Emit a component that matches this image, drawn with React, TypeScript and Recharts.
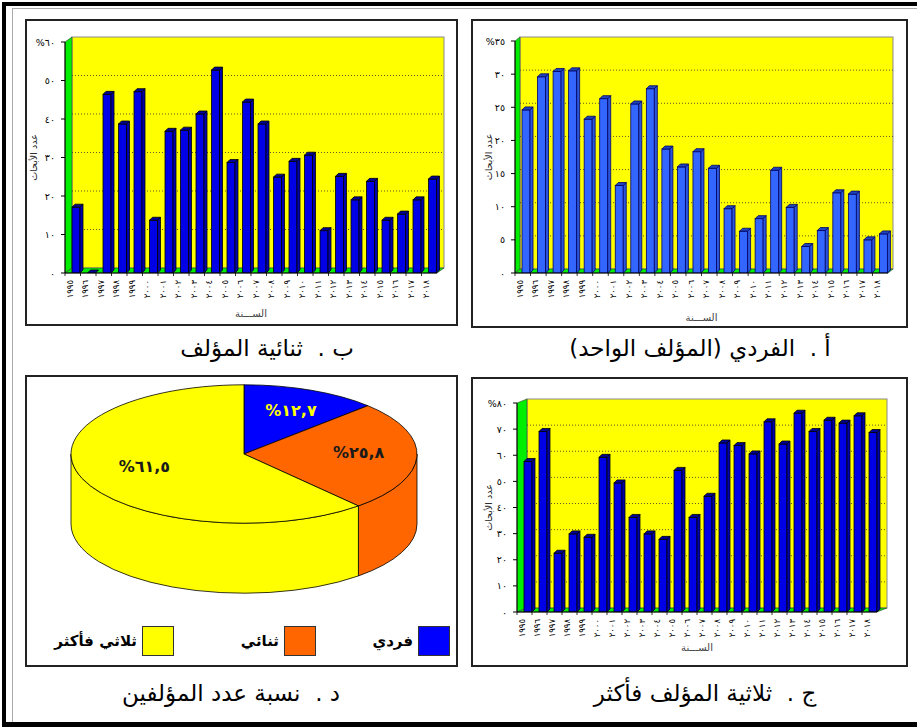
import React from 'react';
import { BarChart, Bar, XAxis, YAxis, ReferenceArea, ReferenceLine, PieChart, Pie, Cell, Legend } from 'recharts';

// ---------- DATA ----------
const years = [1995, 1996, 1997, 1998, 1999, 2000, 2001, 2002, 2003, 2004, 2005, 2006, 2007, 2008, 2009, 2010, 2011, 2012, 2013, 2014, 2015, 2016, 2017, 2018];
const singleAuthorPct = [24.6, 29.6, 30.4, 30.5, 23.2, 26.3, 13.2, 25.5, 27.8, 18.7, 16.0, 18.3, 15.8, 9.7, 6.3, 8.2, 15.5, 9.9, 4.0, 6.4, 12.1, 11.9, 5.0, 5.9];
const twoAuthorsPct = [17.1, 0, 46.4, 38.7, 47.1, 13.7, 36.8, 37.1, 41.3, 52.7, 28.7, 44.4, 38.7, 24.9, 29.0, 30.6, 11.0, 25.1, 19.0, 23.8, 13.7, 15.3, 19.0, 24.4];
const threePlusPct = [57.6, 69.1, 22.5, 29.9, 28.6, 59.2, 49.4, 36.2, 29.9, 27.8, 54.2, 36.2, 44.3, 64.7, 63.7, 60.5, 72.8, 64.3, 76.1, 69.1, 73.4, 72.3, 75.1, 68.7];
const singleTicks = [0, 5, 10, 15, 20, 25, 30, 35];
const twoTicks = [0, 10, 20, 30, 40, 50, 60];
const threeTicks = [0, 10, 20, 30, 40, 50, 60, 70, 80];
const shareNames = ['فردي', 'ثنائي', 'ثلاثي فأكثر'];
const shareValues = [12.7, 25.8, 61.5];
const shareColors = ['#0000FF', '#FF6600', '#FFFF00'];
const shareLabelColors = ['#FFFF00', '#1a1a1a', '#1a1a1a'];
const yTitle = 'عدد الأبحاث';
const xTitle = 'الســـنة';
const captions = {
  a: 'أ .  الفردي (المؤلف الواحد)',
  b: 'ب .  ثنائية المؤلف',
  c: 'ج .  ثلاثية المؤلف فأكثر',
  d: 'د .  نسبة عدد المؤلفين',
};

// ---------- HELPERS ----------
const AR_DIGITS = '٠١٢٣٤٥٦٧٨٩';
const toAr = (v: number | string) => String(v).replace(/\d/g, (d) => AR_DIGITS[+d]).replace('.', ',');
const FONT = "'DejaVu Sans', 'Noto Sans', sans-serif";
const RAD = Math.PI / 180;

type Cfg = {
  left: number; top: number; width: number; height: number;
  yWidth: number; xHeight: number; marginTop: number; marginRight: number;
  dx: number; dy: number; barSize: number; barShift: number; labelShift: number;
  front: string; side: string; topc: string; stroke: string;
  yTitleX: number; xTitleDy: number;
};

function BarPanel({ cfg, values, ticks }: { cfg: Cfg; values: number[]; ticks: number[] }) {
  const data = years.map((y, i) => ({ year: y, v: values[i] }));
  const max = ticks[ticks.length - 1];
  const plotW = cfg.width - cfg.yWidth - cfg.marginRight;
  const half = plotW / years.length / 2;
  const { dx, dy } = cfg;

  const walls = (p: any) => {
    const { x, y, width: w, height: h } = p;
    return (
      <g>
        <rect x={x + dx} y={y - dy} width={w} height={h} fill="#FFFF00" stroke="#8a8a8a" strokeWidth={1} />
        <polygon points={`${x},${y} ${x + dx},${y - dy} ${x + dx},${y + h - dy} ${x},${y + h}`} fill="#00EE00" stroke="#3a3a3a" strokeWidth={0.6} />
        <polygon points={`${x},${y + h} ${x + dx},${y + h - dy} ${x + w + dx},${y + h - dy} ${x + w},${y + h}`} fill="#00EE00" stroke="#3a3a3a" strokeWidth={0.6} />
      </g>
    );
  };

  const grid = (p: any) => (
    <line x1={p.x1 + dx} y1={p.y1 - dy} x2={p.x2 + dx} y2={p.y2 - dy} stroke="#333" strokeWidth={0.8} strokeDasharray="1 2" />
  );

  const barShape = (p: any) => {
    const { x, y, width, height } = p;
    if (x == null || y == null) return <g />;
    const X = x + cfg.barShift;
    const h = Math.max(height || 0, 0);
    const d = 3, d2 = 3;
    return (
      <g>
        {h > 0 && <rect x={X} y={y} width={width} height={h} fill={cfg.front} stroke={cfg.stroke} strokeWidth={0.8} />}
        {h > 0 && (
          <polygon points={`${X + width},${y} ${X + width + d},${y - d2} ${X + width + d},${y + h - d2} ${X + width},${y + h}`} fill={cfg.side} stroke={cfg.stroke} strokeWidth={0.8} />
        )}
        <polygon points={`${X},${y} ${X + d},${y - d2} ${X + width + d},${y - d2} ${X + width},${y}`} fill={cfg.topc} stroke={cfg.stroke} strokeWidth={0.8} />
      </g>
    );
  };

  const xTick = (p: any) => {
    const { x, y, payload } = p;
    return (
      <g>
        <line x1={x - half} y1={y - 5} x2={x - half} y2={y - 2} stroke="#000" strokeWidth={0.8} />
        <text transform={`translate(${x + cfg.labelShift},${y + 2}) rotate(-90)`} textAnchor="end" dominantBaseline="central" fontSize={8.5} fontFamily={FONT} fill="#000">
          {toAr(payload.value)}
        </text>
      </g>
    );
  };

  const yTick = (p: any) => {
    const { x, y, payload } = p;
    const label = payload.value === max ? '%' + toAr(payload.value) : toAr(payload.value);
    return (
      <text x={x} y={y} textAnchor="end" dominantBaseline="central" fontSize={9.5} fontFamily={FONT} fill="#000">
        {label}
      </text>
    );
  };

  const yTitleEl = (p: any) => {
    const vb = p.viewBox || {};
    const cy = vb.y + vb.height / 2;
    return (
      <text transform={`translate(${cfg.yTitleX},${cy}) rotate(-90)`} textAnchor="middle" dominantBaseline="central" fontSize={9.5} fontFamily={FONT} fill="#222">
        {yTitle}
      </text>
    );
  };

  const xTitleEl = (p: any) => {
    const vb = p.viewBox || {};
    return (
      <text x={vb.x + vb.width / 2} y={vb.y + cfg.xTitleDy} textAnchor="middle" dominantBaseline="central" fontSize={10} fontFamily={FONT} fill="#444">
        {xTitle}
      </text>
    );
  };

  return (
    <div style={{ position: 'absolute', left: cfg.left, top: cfg.top }}>
      <BarChart width={cfg.width} height={cfg.height} data={data} margin={{ top: cfg.marginTop, right: cfg.marginRight, left: 0, bottom: 0 }} barCategoryGap={0}>
        <ReferenceArea y1={0} y2={max} ifOverflow="visible" zIndex={-20} shape={walls} />
        {ticks.slice(1, -1).map((t) => (
          <ReferenceLine key={t} y={t} ifOverflow="visible" zIndex={-10} shape={grid} />
        ))}
        <Bar dataKey="v" shape={barShape} isAnimationActive={false} barSize={cfg.barSize} />
        <XAxis dataKey="year" interval={0} height={cfg.xHeight} tickSize={4} tickMargin={1} tickLine={false} axisLine={{ stroke: '#000' }} tick={xTick} label={xTitleEl} />
        <YAxis type="number" domain={[0, max]} ticks={ticks} interval={0} width={cfg.yWidth} tickSize={4} tickMargin={6} tickLine={{ stroke: '#000' }} axisLine={{ stroke: '#000' }} tick={yTick} label={yTitleEl} allowDataOverflow />
      </BarChart>
    </div>
  );
}

const darkBlue = { front: '#0000E6', side: '#0000B0', topc: '#00009A', stroke: '#000000' };
const lightBlue = { front: '#3366FF', side: '#2A55DD', topc: '#1F44BB', stroke: '#000066' };

const cfgB: Cfg = { left: 25, top: 19, width: 433, height: 307, yWidth: 40, xHeight: 53, marginTop: 23, marginRight: 21, dx: 7, dy: 5, barSize: 8, barShift: 3, labelShift: -3, yTitleX: 8, xTitleDy: 40, ...darkBlue };
const cfgA: Cfg = { left: 471, top: 19, width: 437, height: 309, yWidth: 44, xHeight: 55, marginTop: 22, marginRight: 20, dx: 5, dy: 4, barSize: 8, barShift: 3, labelShift: -3, yTitleX: 17, xTitleDy: 44, ...lightBlue };
const cfgC: Cfg = { left: 471, top: 377, width: 437, height: 290, yWidth: 46, xHeight: 55, marginTop: 26, marginRight: 31, dx: 10, dy: 4, barSize: 8, barShift: 3, labelShift: -3, yTitleX: 17, xTitleDy: 35, ...darkBlue };

// ---------- PIE ----------
const PIE_RATIO = 0.4;
const PIE_DEPTH = 70;

function ellPt(cx: number, cy: number, rx: number, ry: number, a: number): [number, number] {
  return [cx + rx * Math.cos(a * RAD), cy - ry * Math.sin(a * RAD)];
}

const renderSlice = (p: any) => {
  const { cx, cy, outerRadius, startAngle, endAngle, midAngle, index } = p;
  const rx = outerRadius;
  const ry = outerRadius * PIE_RATIO;
  const color = shareColors[index];
  const hi = Math.max(startAngle, endAngle);
  const lo = Math.min(startAngle, endAngle);
  const sides: string[] = [];
  for (let k = -2; k <= 1; k++) {
    const a = Math.max(lo, -180 + 360 * k);
    const b = Math.min(hi, 360 * k);
    if (b > a) {
      const [x1, y1] = ellPt(cx, cy, rx, ry, b);
      const [x2, y2] = ellPt(cx, cy, rx, ry, a);
      sides.push(`M${x1},${y1} A${rx},${ry} 0 0 1 ${x2},${y2} L${x2},${y2 + PIE_DEPTH} A${rx},${ry} 0 0 0 ${x1},${y1 + PIE_DEPTH} Z`);
    }
  }
  const [sx, sy] = ellPt(cx, cy, rx, ry, hi);
  const [ex, ey] = ellPt(cx, cy, rx, ry, lo);
  const large = hi - lo > 180 ? 1 : 0;
  const top = `M${cx},${cy} L${sx},${sy} A${rx},${ry} 0 ${large} 1 ${ex},${ey} Z`;
  const [tx, ty] = ellPt(cx, cy, rx * 0.64, ry * 0.64, midAngle);
  return (
    <g key={`slice-${index}`}>
      {sides.map((d, i) => (
        <path key={i} d={d} fill={color} fillOpacity={1} stroke="#000" strokeWidth={0.8} />
      ))}
      <path d={top} fill={color} fillOpacity={1} stroke="#000" strokeWidth={0.8} />
      <text x={tx + 4} y={ty - 3} textAnchor="middle" dominantBaseline="central" fontSize={16} fontWeight="bold" fontFamily={FONT} fill={shareLabelColors[index]}>
        {'%' + toAr(p.value)}
      </text>
    </g>
  );
};

const LEGEND_RIGHT = [8, 142, 284];
const legendContent = (props: any) => {
  const payload = props.payload || [];
  return (
    <div style={{ position: 'relative', width: 433, height: 32 }}>
      {payload.map((e: any) => {
        const i = shareNames.indexOf(e.value);
        return (
          <div key={e.value} style={{ position: 'absolute', right: LEGEND_RIGHT[i], top: 0, display: 'flex', alignItems: 'center', gap: 5 }}>
            <span dir="rtl" style={{ fontFamily: FONT, fontWeight: 'bold', fontSize: 15, color: '#000', whiteSpace: 'nowrap' }}>{e.value}</span>
            <span style={{ display: 'inline-block', width: 30, height: 28, background: shareColors[i], border: '1px solid #333' }} />
          </div>
        );
      })}
    </div>
  );
};

function PiePanel() {
  const data = shareNames.map((n, i) => ({ name: n, value: shareValues[i] }));
  return (
    <div style={{ position: 'absolute', left: 25, top: 375 }}>
      <PieChart width={433} height={292} margin={{ top: 0, right: 0, bottom: 0, left: 0 }}>
        <Pie data={data} dataKey="value" nameKey="name" cx={219} cy={79} outerRadius={173} startAngle={90} endAngle={-270} stroke="none" fillOpacity={0} labelLine={false} label={renderSlice} isAnimationActive={false}>
          {data.map((_, i) => (
            <Cell key={i} fill={shareColors[i]} />
          ))}
        </Pie>
        <Legend content={legendContent} verticalAlign="bottom" wrapperStyle={{ position: 'absolute', top: 251, bottom: 'auto', left: 0, width: 433, height: 32 }} />
      </PieChart>
    </div>
  );
}

function Box({ l, t, r, b }: { l: number; t: number; r: number; b: number }) {
  return <div style={{ position: 'absolute', left: l, top: t, width: r - l, height: b - t, border: '2px solid #222', boxSizing: 'border-box' }} />;
}

function Caption({ text, cx, cy }: { text: string; cx: number; cy: number }) {
  return (
    <div dir="rtl" style={{ position: 'absolute', left: cx - 200, top: cy - 16, width: 400, height: 32, lineHeight: '32px', textAlign: 'center', fontFamily: FONT, fontSize: 23, color: '#000', whiteSpace: 'pre' }}>
      {text}
    </div>
  );
}

export default function App() {
  return (
    <div style={{ position: 'absolute', left: 0, top: 0, width: 917, height: 727, background: '#fff', overflow: 'hidden' }}>
      <div style={{ position: 'absolute', left: 2, top: 2, width: 915, height: 725, borderLeft: '4px solid #000', borderTop: '4px solid #000', borderBottom: '5px solid #000', boxSizing: 'border-box' }} />
      <div style={{ position: 'absolute', left: 12, top: 8, width: 905, height: 714, borderLeft: '1px solid #aaa', borderTop: '1px solid #aaa', boxSizing: 'border-box' }} />
      <Box l={25} t={19} r={458} b={326} />
      <Box l={471} t={19} r={908} b={328} />
      <Box l={25} t={375} r={458} b={667} />
      <Box l={471} t={377} r={908} b={667} />
      <BarPanel cfg={cfgB} values={twoAuthorsPct} ticks={twoTicks} />
      <BarPanel cfg={cfgA} values={singleAuthorPct} ticks={singleTicks} />
      <BarPanel cfg={cfgC} values={threePlusPct} ticks={threeTicks} />
      <PiePanel />
      <Caption text={captions.b} cx={267} cy={348} />
      <Caption text={captions.a} cx={700} cy={348} />
      <Caption text={captions.d} cx={231} cy={693} />
      <Caption text={captions.c} cx={705} cy={693} />
    </div>
  );
}
